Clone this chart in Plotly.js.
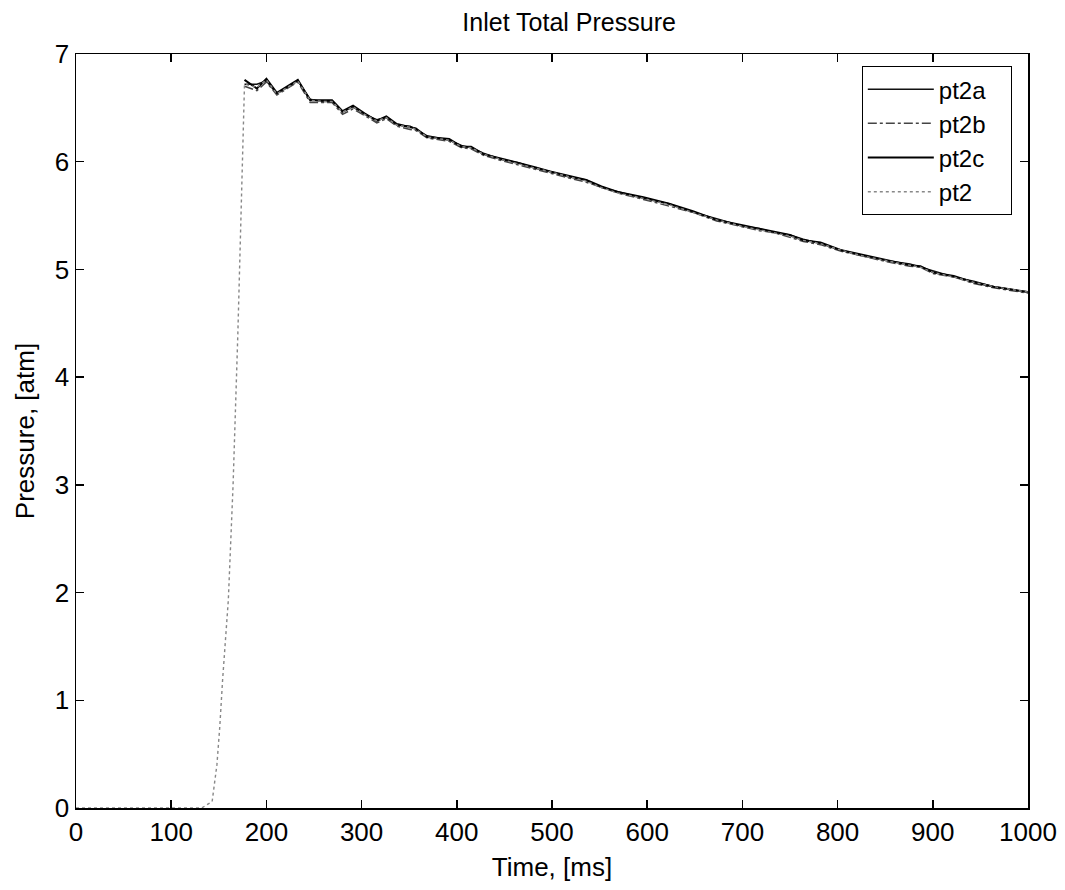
<!DOCTYPE html>
<html>
<head>
<meta charset="utf-8">
<script src="https://cdn.plot.ly/plotly-3.0.1.min.js"></script>
<style>html,body{margin:0;padding:0;background:#fff;}</style>
</head>
<body>
<div id="chart" style="width:1065px;height:890px;"></div>
<script>
// Time samples (ms) for the sensors after the pressure rise
const timeMain = [177,190,200,211,222,233,246,258,269,280,291,303,316,326,337,351,357,369,392,405,415,428,447,465,482,498,517,536,552,569,596,623,648,673,700,718,734,750,764,782,803,824,852,876,887,901,922,943,964,992,1000];

// Pressure (atm) for each probe
const pt2a = [6.72,6.72,6.75,6.63,6.69,6.75,6.58,6.56,6.56,6.46,6.51,6.44,6.39,6.41,6.34,6.33,6.30,6.24,6.20,6.15,6.13,6.08,6.02,5.99,5.94,5.91,5.86,5.83,5.76,5.72,5.66,5.61,5.53,5.47,5.40,5.38,5.34,5.32,5.28,5.24,5.18,5.13,5.08,5.05,5.02,4.98,4.93,4.89,4.84,4.80,4.79];
const pt2b = [6.70,6.66,6.74,6.62,6.68,6.74,6.55,6.55,6.55,6.44,6.49,6.43,6.36,6.40,6.33,6.30,6.29,6.22,6.19,6.13,6.12,6.06,6.01,5.97,5.93,5.89,5.85,5.81,5.76,5.71,5.65,5.59,5.53,5.45,5.40,5.36,5.34,5.30,5.26,5.23,5.17,5.13,5.07,5.03,5.02,4.96,4.93,4.87,4.83,4.79,4.78];
const pt2c = [6.76,6.68,6.77,6.64,6.70,6.76,6.57,6.57,6.57,6.47,6.52,6.45,6.38,6.42,6.35,6.32,6.31,6.23,6.21,6.14,6.14,6.07,6.03,5.99,5.95,5.91,5.87,5.83,5.77,5.72,5.67,5.61,5.54,5.46,5.41,5.38,5.35,5.32,5.27,5.25,5.18,5.14,5.08,5.04,5.03,4.97,4.94,4.88,4.84,4.80,4.79];

// Averaged inlet total pressure, including the quiet period and the rise
const timePt2 = [0,132,143,148,151,154,160,165,170,174,177,190,200,211,222,233,246,258,269,280,291,303,316,326,337,351,357,369,392,405,415,428,447,465,482,498,517,536,552,569,596,623,648,673,700,718,734,750,764,782,803,824,852,876,887,901,922,943,964,992,1000];
const pt2 = [0,0,0.06,0.40,0.75,1.19,1.93,3.00,4.40,5.60,6.72,6.69,6.76,6.63,6.69,6.75,6.57,6.56,6.56,6.46,6.51,6.44,6.38,6.41,6.34,6.32,6.30,6.23,6.20,6.14,6.13,6.07,6.02,5.98,5.94,5.90,5.86,5.82,5.76,5.71,5.66,5.60,5.53,5.46,5.40,5.37,5.34,5.31,5.27,5.24,5.18,5.13,5.08,5.04,5.02,4.97,4.93,4.88,4.84,4.80,4.79];

const xTicks = [0,100,200,300,400,500,600,700,800,900,1000];
const yTicks = [0,1,2,3,4,5,6,7];

const FONT = '"Liberation Sans", Arial, Helvetica, sans-serif';
const PAD = '\u00a0\u00a0\u00a0';

const traces = [
  {x: timeMain, y: pt2a, name: 'pt2a' + PAD, mode: 'lines', line: {color: '#111', width: 1.5}},
  {x: timeMain, y: pt2b, name: 'pt2b' + PAD, mode: 'lines', line: {color: '#444', width: 1.5, dash: 'dashdot'}},
  {x: timeMain, y: pt2c, name: 'pt2c' + PAD, mode: 'lines', line: {color: '#000', width: 2}},
  {x: timePt2, y: pt2, name: 'pt2' + PAD, mode: 'lines', line: {color: '#888', width: 1.4, dash: 'dot'}}
];

const layout = {
  width: 1065, height: 890,
  paper_bgcolor: '#fff', plot_bgcolor: '#fff',
  margin: {l: 76, r: 37, t: 54, b: 82},
  font: {family: FONT, color: '#000', size: 25},
  title: {text: 'Inlet Total Pressure', font: {family: FONT, size: 25, color: '#000'},
          x: 0.518, xanchor: 'center', xref: 'paper', y: 1 - 22/890, yanchor: 'middle', yref: 'container'},
  showlegend: true,
  legend: {x: 0.983, xanchor: 'right', y: 0.984, yanchor: 'top',
           bgcolor: '#fff', bordercolor: '#000', borderwidth: 1,
           font: {family: FONT, size: 24, color: '#000'}, itemwidth: 66,
           tracegroupgap: 0},
  xaxis: {range: [0, 1000], tickvals: xTicks, ticktext: xTicks.map(String),
          ticks: 'inside', ticklen: 8, tickwidth: 1.5, tickcolor: '#000',
          showline: true, linecolor: '#000', linewidth: 1.5, mirror: 'ticks',
          showgrid: false, zeroline: false,
          tickfont: {family: FONT, size: 26, color: '#000'},
          title: {text: 'Time, [ms]', font: {family: FONT, size: 26, color: '#000'}, standoff: 12}},
  yaxis: {range: [0, 7], tickvals: yTicks, ticktext: yTicks.map(String),
          ticks: 'inside', ticklen: 8, tickwidth: 1.5, tickcolor: '#000',
          showline: true, linecolor: '#000', linewidth: 1.5, mirror: 'ticks',
          showgrid: false, zeroline: false,
          tickfont: {family: FONT, size: 26, color: '#000'},
          title: {text: 'Pressure, [atm]', font: {family: FONT, size: 26, color: '#000'}, standoff: 12}}
};

Plotly.newPlot('chart', traces, layout, {displayModeBar: false, staticPlot: true});
</script>
</body>
</html>
